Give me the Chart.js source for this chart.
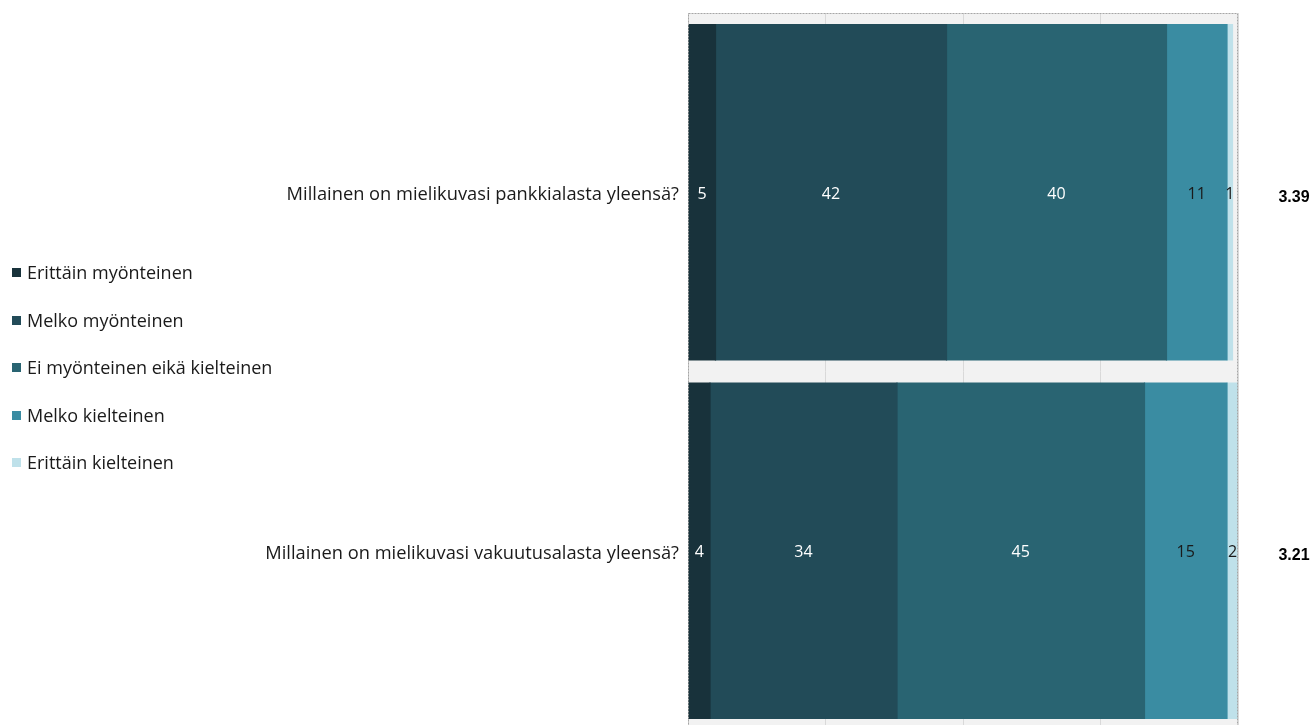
<!DOCTYPE html>
<html lang="fi">
<head>
<meta charset="utf-8">
<title>Mielikuva pankki- ja vakuutusalasta</title>
<script src="https://cdn.jsdelivr.net/npm/chart.js@4/dist/chart.umd.min.js"></script>
<style>
    html, body { margin: 0; padding: 0; background: #fff; overflow: hidden; }
    #wrap { position: relative; width: 1312px; height: 742px; }
    #legend { position: absolute; left: 12px; top: 0; font-family: 'Open Sans', sans-serif; font-size: 18px; color: #1a1a1a; }
    #legend div { position: absolute; white-space: nowrap; line-height: 24px; }
    #legend span { display: inline-block; width: 9px; height: 9px; margin-right: 6px; vertical-align: 2px; }
</style>
</head>
<body>
<div id="wrap">
    <canvas id="imageChart" width="1312" height="742"></canvas>
    <div id="legend"></div>
</div>
<script>
const categories = [
    'Millainen on mielikuvasi pankkialasta yleensä?',
    'Millainen on mielikuvasi vakuutusalasta yleensä?'
];
const seriesNames = [
    'Erittäin myönteinen',
    'Melko myönteinen',
    'Ei myönteinen eikä kielteinen',
    'Melko kielteinen',
    'Erittäin kielteinen'
];
const seriesColors = ['#18323b', '#224b58', '#296472', '#3a8ca2', '#bfe1ea'];
const labelColors = ['#ffffff', '#ffffff', '#ffffff', '#1a1a1a', '#1a1a1a'];

const erittainMyonteinen = [5, 4];
const melkoMyonteinen = [42, 34];
const eiMyonteinenEikaKielteinen = [40, 45];
const melkoKielteinen = [11, 15];
const erittainKielteinen = [1, 2];
const meanScores = ['3.39', '3.21'];

const xMin = 0;
const xMax = 100;
const xStep = 25;

const seriesValues = [erittainMyonteinen, melkoMyonteinen, eiMyonteinenEikaKielteinen, melkoKielteinen, erittainKielteinen];

// grey plot background and dashed frame
const plotFrame = {
    id: 'plotFrame',
    beforeDraw(chart) {
        const { ctx, chartArea: a } = chart;
        ctx.save();
        ctx.fillStyle = '#f2f2f2';
        ctx.fillRect(a.left, a.top, a.right - a.left, a.bottom - a.top);
        ctx.restore();
    },
    afterDatasetsDraw(chart) {
        const { ctx, chartArea: a } = chart;
        ctx.save();
        ctx.strokeStyle = '#a6a6a6';
        ctx.lineWidth = 1;
        ctx.setLineDash([2, 1]);
        ctx.strokeRect(a.left + 0.5, a.top + 0.5, a.right - a.left - 1, a.bottom - a.top);
        ctx.restore();
    }
};

// value labels inside the segments and mean score at the right
const segmentLabels = {
    id: 'segmentLabels',
    afterDraw(chart) {
        const { ctx, chartArea: a } = chart;
        ctx.save();
        ctx.textAlign = 'center';
        ctx.textBaseline = 'middle';
        ctx.font = '16px "Open Sans", sans-serif';
        chart.data.datasets.forEach((ds, i) => {
            const meta = chart.getDatasetMeta(i);
            meta.data.forEach((bar, j) => {
                ctx.fillStyle = labelColors[i];
                ctx.fillText(String(ds.data[j]), (bar.x + bar.base) / 2, bar.y + 2);
            });
        });
        ctx.fillStyle = '#000';
        ctx.font = 'bold 16px "Liberation Sans Narrow", "Liberation Sans", sans-serif';
        const meta = chart.getDatasetMeta(0);
        meta.data.forEach((bar, j) => {
            ctx.fillText(meanScores[j], a.right + 56, bar.y + 5);
        });
        ctx.restore();
    }
};

const ctx = document.getElementById('imageChart').getContext('2d');
const chart = new Chart(ctx, {
    type: 'bar',
    data: {
        labels: categories,
        datasets: seriesNames.map((name, i) => ({
            label: name,
            data: seriesValues[i],
            backgroundColor: seriesColors[i],
            borderWidth: 0,
            inflateAmount: 0.6,
            barPercentage: 0.935,
            categoryPercentage: 1
        }))
    },
    options: {
        indexAxis: 'y',
        responsive: false,
        animation: false,
        layout: {
            autoPadding: false,
            padding: { left: 0, right: 74, top: 13, bottom: 0 }
        },
        scales: {
            x: {
                stacked: true,
                min: xMin,
                max: xMax,
                ticks: { display: false, stepSize: xStep, padding: 0 },
                grid: { color: '#d9d9d9', drawTicks: false, tickLength: 0 },
                border: { display: false },
                afterFit(scale) { scale.height = 0; }
            },
            y: {
                stacked: true,
                grid: { display: false },
                border: { display: false },
                ticks: {
                    color: '#1a1a1a',
                    padding: 1,
                    labelOffset: 3,
                    font: { family: '"Open Sans", sans-serif', size: 18.3 }
                },
                afterFit(scale) { scale.width = 688; }
            }
        },
        plugins: {
            legend: { display: false },
            tooltip: { enabled: false }
        }
    },
    plugins: [plotFrame, segmentLabels]
});

// legend on the left, built from the chart's datasets
const legendEl = document.getElementById('legend');
const legendRows = [272, 319.5, 367, 414.5, 462];
chart.data.datasets.forEach((ds, i) => {
    const item = document.createElement('div');
    item.style.top = (legendRows[i] - 12) + 'px';
    const box = document.createElement('span');
    box.style.background = ds.backgroundColor;
    item.appendChild(box);
    item.appendChild(document.createTextNode(ds.label));
    legendEl.appendChild(item);
});
</script>
</body>
</html>
